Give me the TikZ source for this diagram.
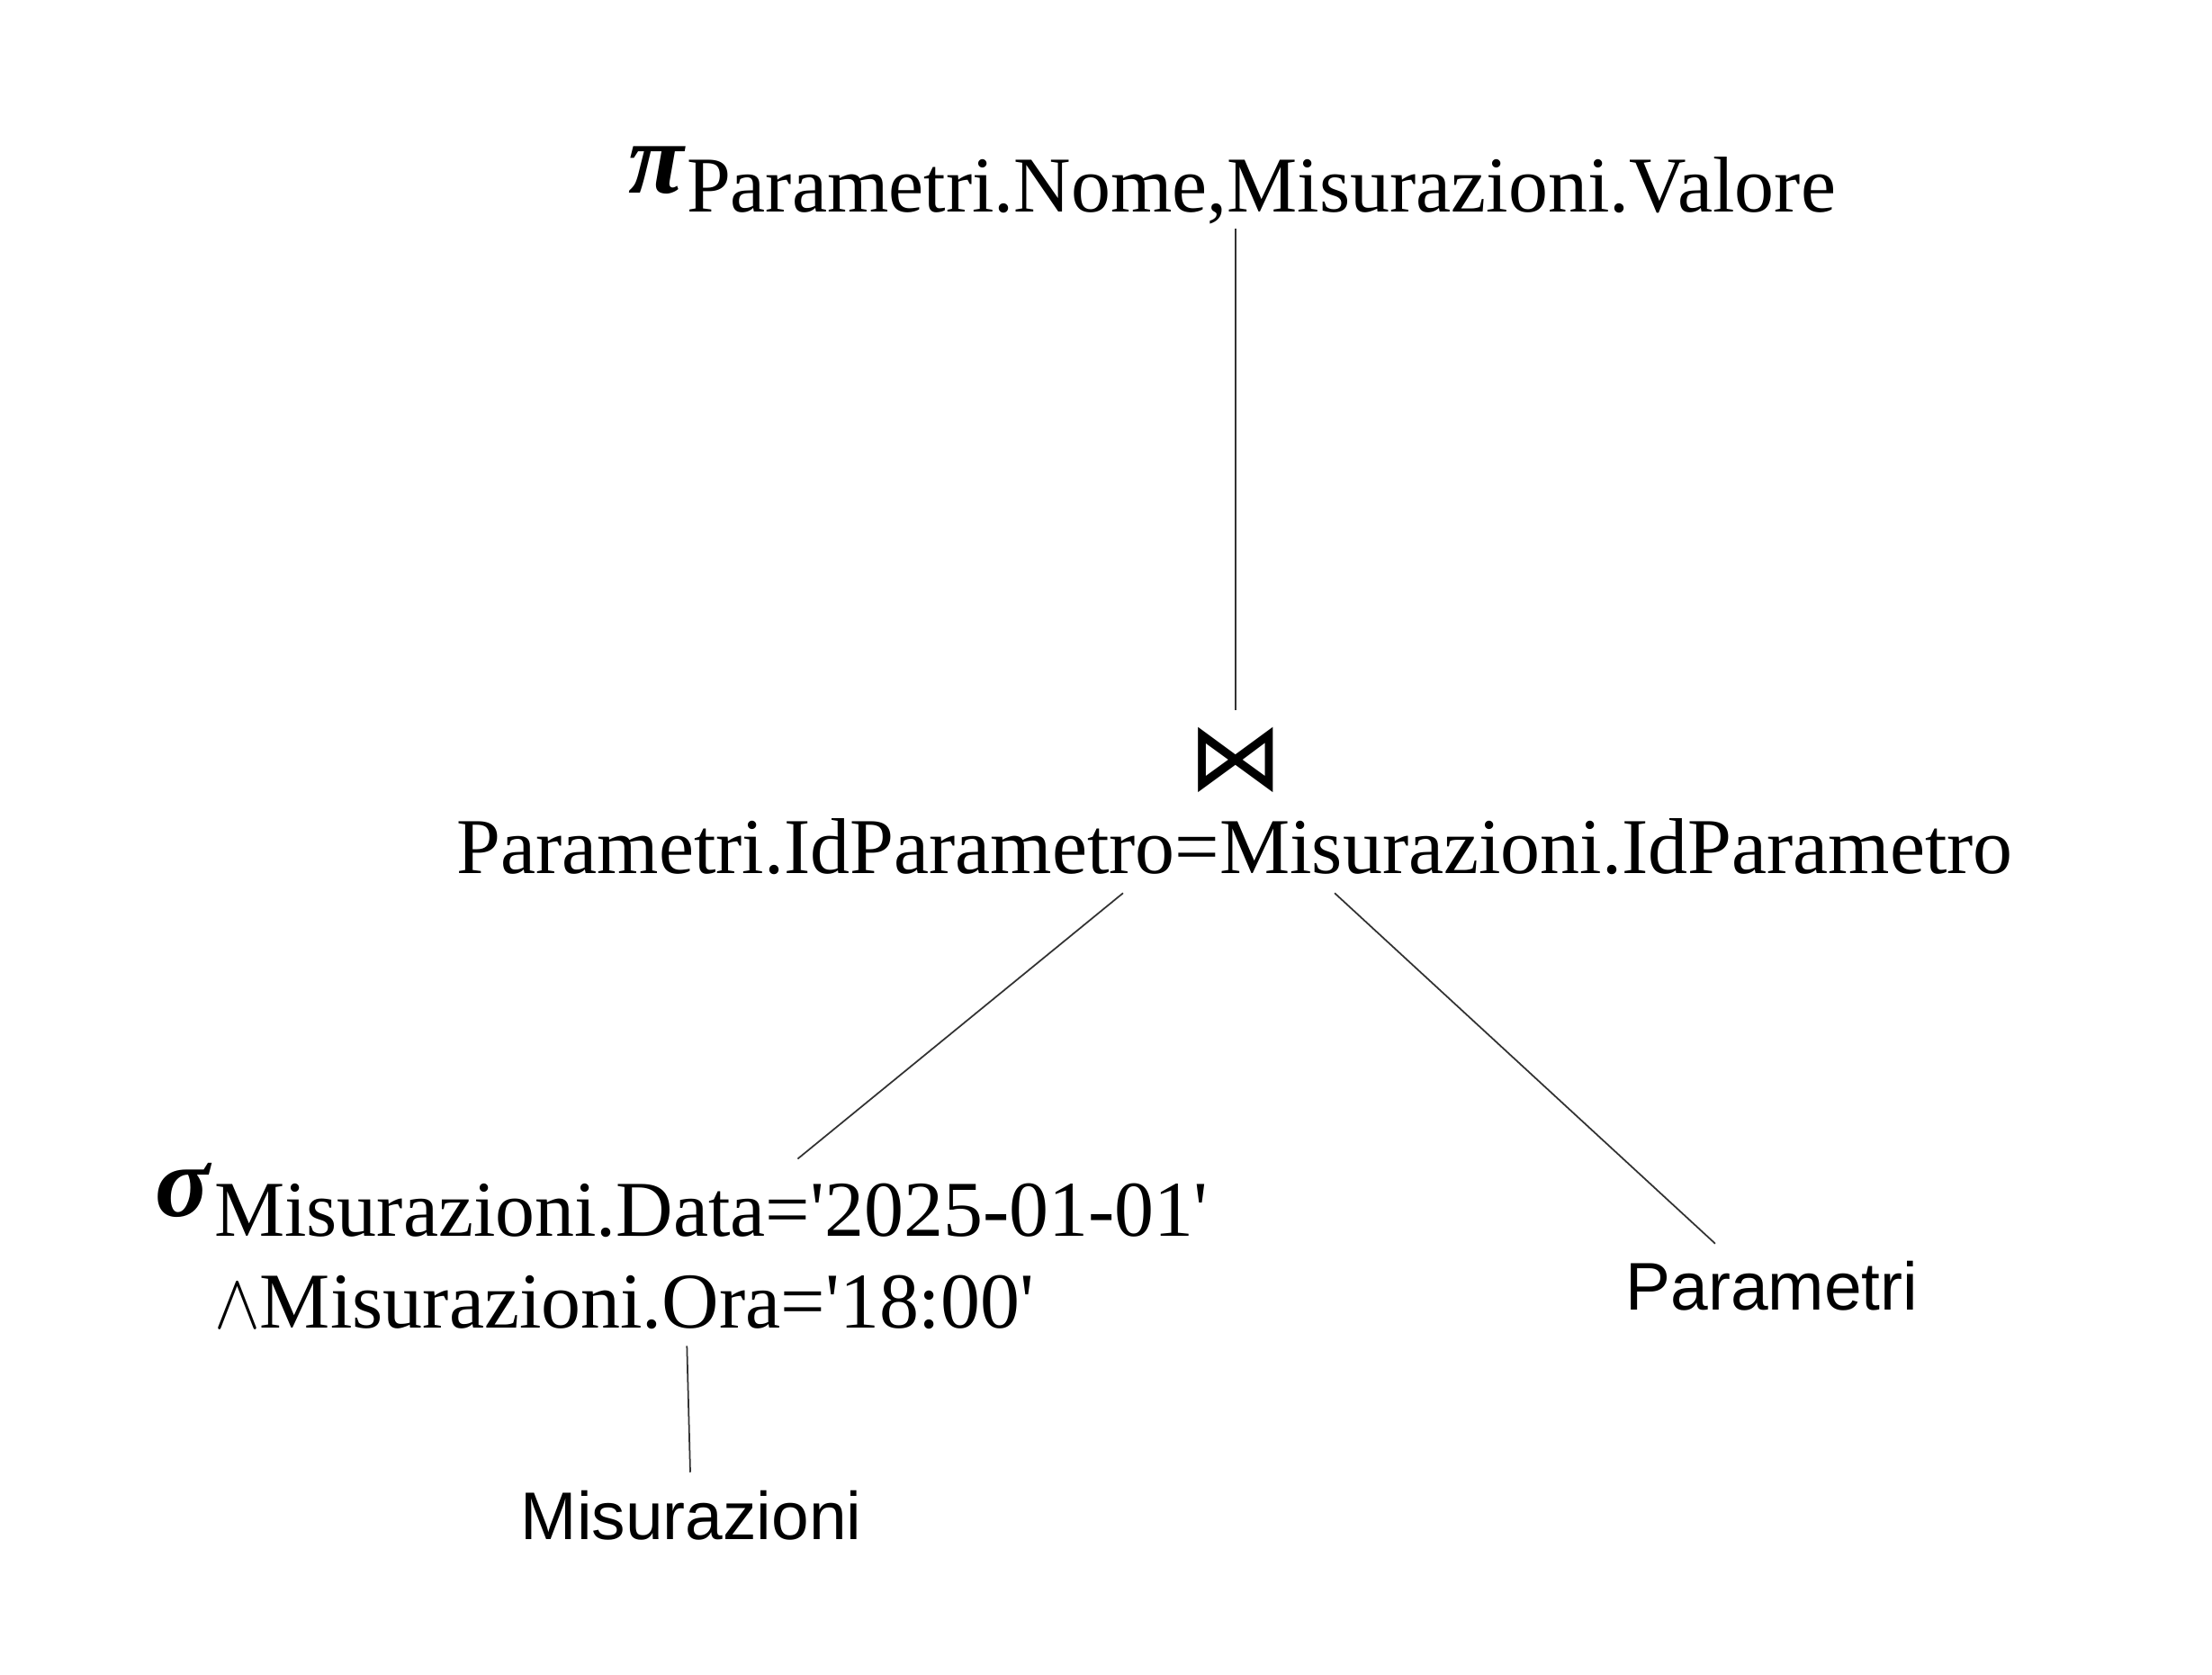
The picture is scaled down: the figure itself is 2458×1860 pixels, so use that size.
\documentclass[tikz,border=0pt]{standalone}
\usepackage{graphicx}
\usepackage{fontspec}
\setmainfont{Liberation Serif}
\newfontfamily\sansf{Liberation Sans}
\newfontfamily\dvs{DejaVu Sans}
\begin{document}
\begin{tikzpicture}[x=0.01cm,y=-0.01cm,
  lbl/.style={inner sep=0pt,outer sep=0pt},
  serif/.style={lbl,font=\fontsize{25pt}{30pt}\selectfont},
  greek/.style={lbl,font=\fontsize{32pt}{36pt}\selectfont\bfseries\itshape},
  rel/.style={lbl,font=\sansf\fontsize{21.3pt}{26pt}\selectfont},
  edge/.style={draw=black!80,line width=0.5pt}]
\useasboundingbox (0,0) rectangle (2458,1860);
% projection
\node[greek,anchor=base west] (pi) at (698,214) {π};
\node[serif,anchor=base west] (proj) at (763,235) {Parametri.Nome,Misurazioni.Valore};
% join
\node[lbl,font=\dvs\fontsize{30pt}{30pt}\selectfont] (join) at (1373,844) {⋈};
\node[serif,anchor=base] (cond) at (1372,970) {Parametri.IdParametro=Misurazioni.IdParametro};
% selection
\node[greek,anchor=base west] (sigma) at (172,1351) {σ};
\node[serif,anchor=base west] (sel1) at (238,1373) {Misurazioni.Data=\textquotesingle 2025-01-01\textquotesingle};
\node[serif,anchor=base west] (sel2) at (238,1475) {\resizebox{14.5pt}{13.8pt}{$\wedge$}Misurazioni.Ora=\textquotesingle 18:00\textquotesingle};
% relations
\node[rel,anchor=base] (mis) at (768,1710) {Misurazioni};
\node[rel,anchor=base] (par) at (1969,1455) {Parametri};
% connectors
\coordinate (p1) at (1373,254);
\coordinate (j1) at (1373,789);
\draw[edge] (p1 -| join) -- (j1 -| join);
\draw[edge] ([xshift=-1.24cm,yshift=-0.21cm]cond.south) -- ([xshift=6.48cm,yshift=0.27cm]sel1.north west);
\draw[edge] ([xshift=1.11cm,yshift=-0.21cm]cond.south) -- ([xshift=-0.63cm,yshift=0.19cm]par.north);
\draw[edge] ([xshift=5.25cm,yshift=-0.19cm]sel2.south west) -- ([xshift=-0.01cm,yshift=0.2cm]mis.north);
\end{tikzpicture}
\end{document}
